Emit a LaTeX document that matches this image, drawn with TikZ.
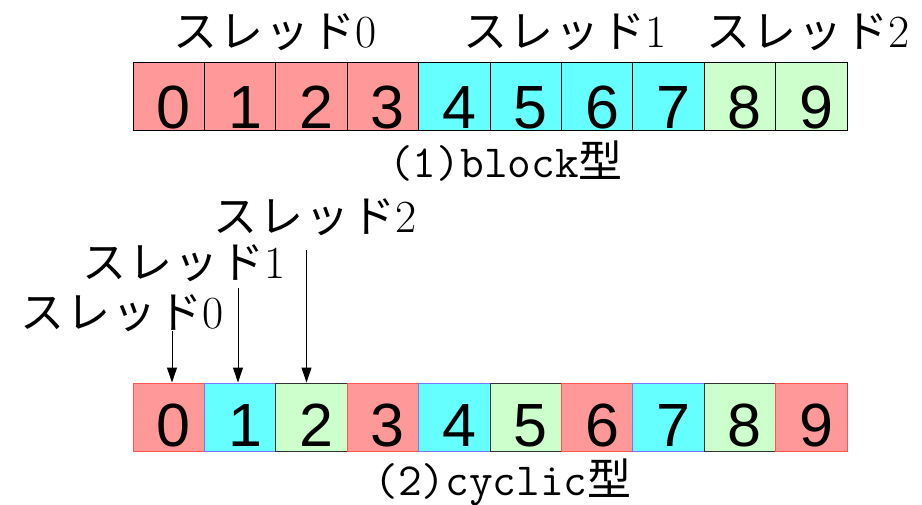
\documentclass[tikz,border=0pt]{standalone}
\usepackage{fontspec}
\newfontfamily\cjk{Noto Sans CJK JP}
\newfontfamily\arialf{Liberation Sans}
\usetikzlibrary{arrows.meta}
\definecolor{cellred}{HTML}{FF9999}
\definecolor{cellcyan}{HTML}{66FFFF}
\definecolor{cellgreen}{HTML}{CCFFCC}
\definecolor{edgered}{HTML}{FF5555}
\definecolor{edgeblue}{HTML}{7777FF}
\definecolor{edgedark}{HTML}{333333}
\newcommand{\kata}{\cjk\fontsize{44}{50}\selectfont}
\begin{document}
\begin{tikzpicture}[x=1pt,y=-1pt,
  cell/.style={rectangle, minimum width=71.4pt, minimum height=68pt, inner sep=0pt, line width=1pt},
  digit/.style={anchor=base, font=\arialf\fontsize{61}{61}\selectfont, inner sep=0pt},
  lbl/.style={anchor=base, font=\fontsize{46}{50}\selectfont, inner sep=0pt},
  captxt/.style={anchor=base, font=\ttfamily\fontsize{46}{50}\selectfont, inner sep=0pt},
  arr/.style={-{Triangle[width=10pt,length=15pt]}, line width=1pt}]
\useasboundingbox (0,0) rectangle (922,504);
% top row (block)
\foreach \i/\c in {0/cellred,1/cellred,2/cellred,3/cellred,4/cellcyan,5/cellcyan,6/cellcyan,7/cellcyan,8/cellgreen,9/cellgreen}{
  \node[cell, fill=\c, draw=black] (t\i) at ({168.7+71.4*\i},96) {};
  \node[digit] (td\i) at ([xshift=5pt,yshift=2pt]t\i.south) {\i};
}
% bottom row (cyclic)
\foreach \i/\c/\e in {0/cellred/edgered,1/cellcyan/edgeblue,2/cellgreen/edgedark,3/cellred/edgered,4/cellcyan/edgeblue,5/cellgreen/edgedark,6/cellred/edgered,7/cellcyan/edgeblue,8/cellgreen/edgedark,9/cellred/edgered}{
  \node[cell, fill=\c, draw=\e] (b\i) at ({168.7+71.4*\i},417) {};
  \node[digit] (bd\i) at ([xshift=5pt,yshift=5pt]b\i.south) {\i};
}
% top labels
\node[lbl] (tl0) at (275,47) {{\kata ス\kern2ptレ\kern2ptッ\kern2ptド}0};
\node[lbl] (tl1) at (565,47) {{\kata ス\kern2ptレ\kern2ptッ\kern2ptド}1};
\node[lbl] (tl2) at (808,47) {{\kata ス\kern2ptレ\kern2ptッ\kern2ptド}2};
\node[captxt] (cap1) at (506,177) {(1)block{\kata 型}};
% cyclic labels
\node[lbl] (ml2) at (315,232) {{\kata ス\kern2ptレ\kern2ptッ\kern2ptド}2};
\node[lbl] (ml1) at (184,278) {{\kata ス\kern2ptレ\kern2ptッ\kern2ptド}1};
\node[lbl] (ml0) at (122,328) {{\kata ス\kern2ptレ\kern2ptッ\kern2ptド}0};
\coordinate (s0) at (172,331);
\coordinate (s1) at (238,288);
\coordinate (s2) at (306.5,250);
\draw[arr] (s0) -- (s0 |- b0.north);
\draw[arr] (s1) -- (s1 |- b1.north);
\draw[arr] (s2) -- (s2 |- b2.north);
\node[captxt] (cap2) at (503,495) {(2)cyclic{\kata 型}};
\end{tikzpicture}
\end{document}
